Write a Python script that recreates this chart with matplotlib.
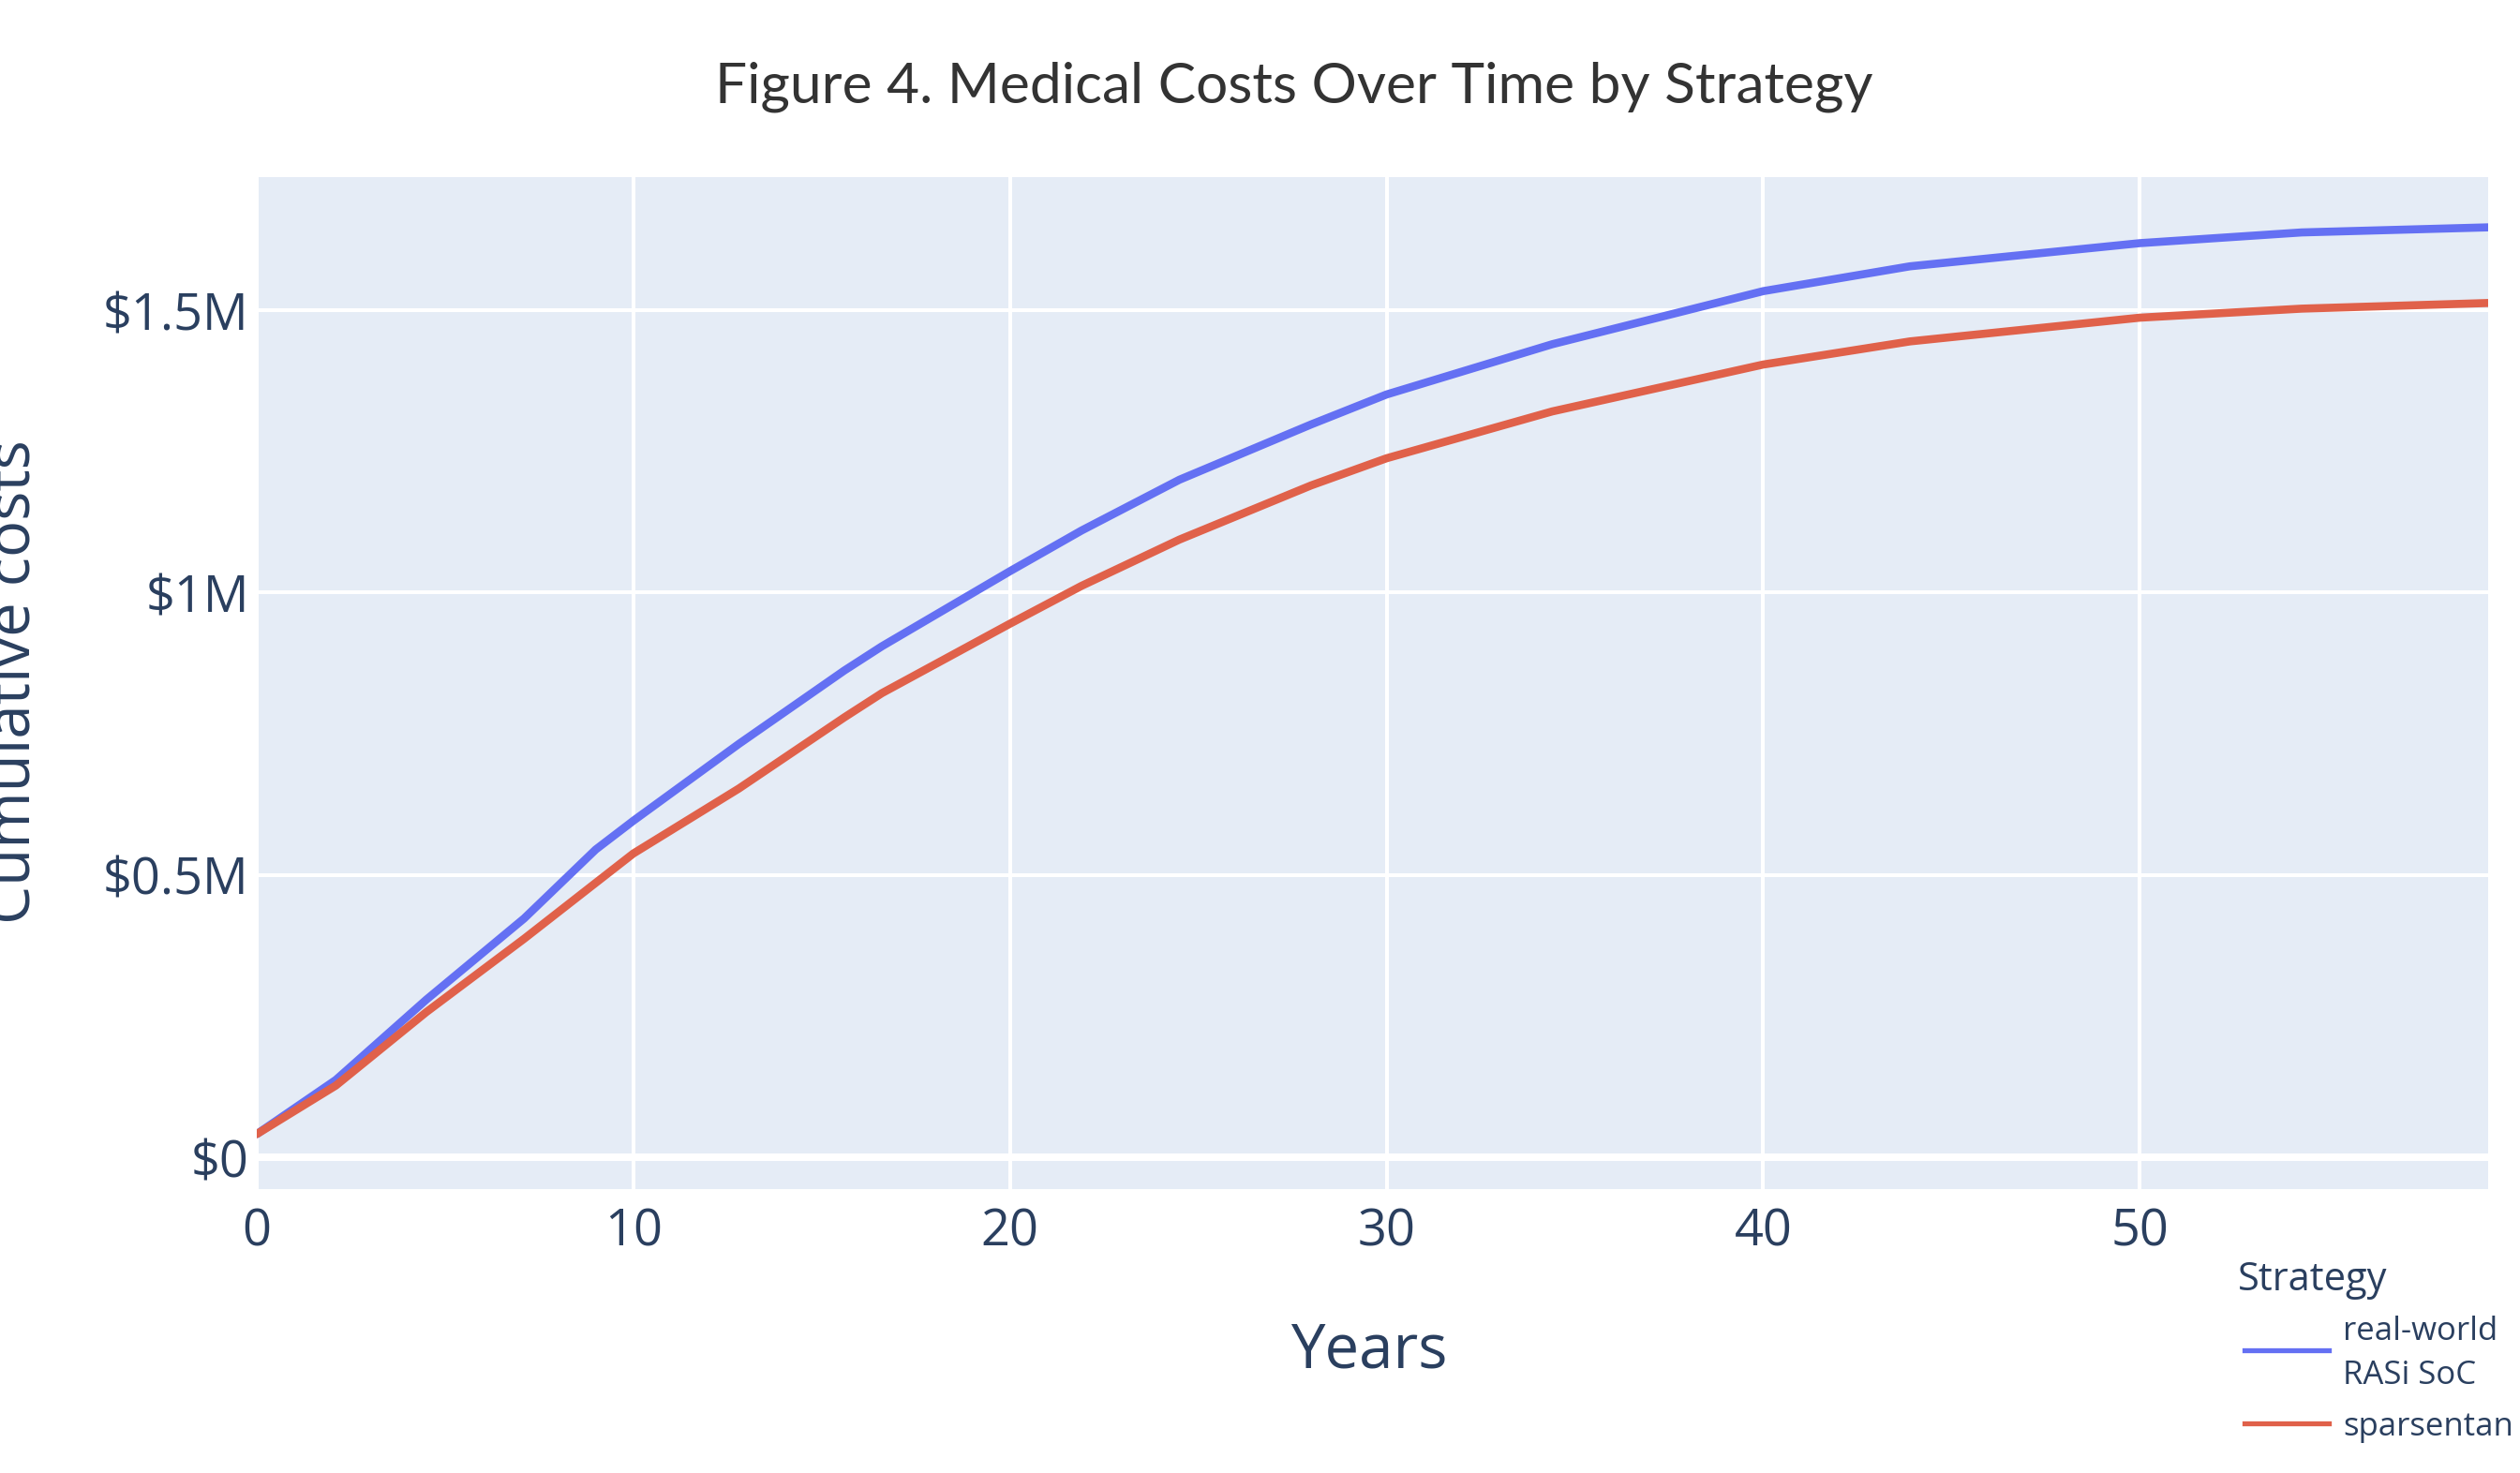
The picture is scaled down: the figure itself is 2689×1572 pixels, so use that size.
import matplotlib
matplotlib.use("Agg")
import matplotlib.pyplot as plt
from matplotlib.lines import Line2D
from matplotlib.ticker import FixedLocator, FuncFormatter

# Cumulative medical costs (USD millions) by year of follow-up
years = [0, 2.1, 4.5, 7.1, 9, 10, 12.8, 15.6, 16.6, 20, 21.9, 24.5, 28, 30, 34.4, 40,
         43.9, 50, 54.3, 59.25]
rasi_soc = [0.041, 0.137, 0.279, 0.423, 0.545, 0.596, 0.732, 0.862, 0.905, 1.038, 1.110,
            1.200, 1.298, 1.351, 1.440, 1.534, 1.578, 1.619, 1.638, 1.647]
sparsentan = [0.041, 0.127, 0.257, 0.387, 0.486, 0.538, 0.653, 0.779, 0.822, 0.945, 1.012,
              1.094, 1.190, 1.238, 1.321, 1.404, 1.445, 1.487, 1.503, 1.513]

series_names = ["real-world\nRASi SoC", "sparsentan"]
series_colors = ["#6470F3", "#E0614A"]

y_ticks = [0, 0.5, 1.0, 1.5]
x_ticks = [0, 10, 20, 30, 40, 50]

W, H = 2689, 1572
DPI = 100
TXT = "#2a3f5f"
FONT = "Open Sans"


def fx(px):
    return px / W


def fy(py):
    return 1 - py / H


fig = plt.figure(figsize=(W / DPI, H / DPI), dpi=DPI, facecolor="white")
ax = fig.add_axes([fx(274), fy(1269), fx(2655) - fx(274), fy(189) - fy(1269)])
ax.set_facecolor("#E5ECF6")
for s in ax.spines.values():
    s.set_visible(False)

ax.set_xlim(0, max(years))
ax.set_ylim(-0.0564, 1.736)

ax.xaxis.set_major_locator(FixedLocator(x_ticks))
ax.yaxis.set_major_locator(FixedLocator(y_ticks))


def money(v, _pos):
    if v == 0:
        return "$0"
    return f"${v:g}M"


ax.yaxis.set_major_formatter(FuncFormatter(money))
ax.grid(True, color="white", linewidth=2.9, zorder=0)
ax.set_axisbelow(True)
ax.axhline(0, color="white", linewidth=5.8, zorder=1)

ax.tick_params(axis="both", length=0, labelcolor=TXT, labelsize=39)
ax.tick_params(axis="x", pad=13)
ax.tick_params(axis="y", pad=6)
for lab in ax.get_xticklabels() + ax.get_yticklabels():
    lab.set_fontfamily(FONT)

lines = []
for vals, name, col in zip([rasi_soc, sparsentan], series_names, series_colors):
    (ln,) = ax.plot(years, vals, color=col, linewidth=6.2, solid_capstyle="round",
                    solid_joinstyle="round", zorder=3, label=name)
    lines.append(ln)

# Title and axis titles
fig.text(fx(1381), fy(110), "Figure 4. Medical Costs Over Time by Strategy",
         ha="center", va="baseline", fontsize=43.5, color="#333333", family="Lato")
fig.text(fx(1461), fy(1460), "Years", ha="center", va="baseline",
         fontsize=47, color=TXT, family=FONT)
fig.text(fx(32), fy(728), "Cumulative costs", ha="center", va="baseline",
         rotation=90, rotation_mode="anchor", fontsize=47, color=TXT, family=FONT)

# Legend
fig.text(fx(2388), fy(1377), "Strategy", ha="left", va="baseline",
         fontsize=30, color=TXT, family=FONT)
swatch_y = [1441, 1519]
label_baselines = [[1430, 1477], [1532]]
for ln, sy, bases in zip(lines, swatch_y, label_baselines):
    fig.add_artist(Line2D([fx(2395), fx(2485)], [fy(sy), fy(sy)], color=ln.get_color(),
                          linewidth=3.8, transform=fig.transFigure))
    for part, by in zip(ln.get_label().split("\n"), bases):
        fig.text(fx(2500), fy(by), part, ha="left", va="baseline",
                 fontsize=25, color=TXT, family=FONT)

fig.savefig("out.png", dpi=DPI, facecolor="white")
